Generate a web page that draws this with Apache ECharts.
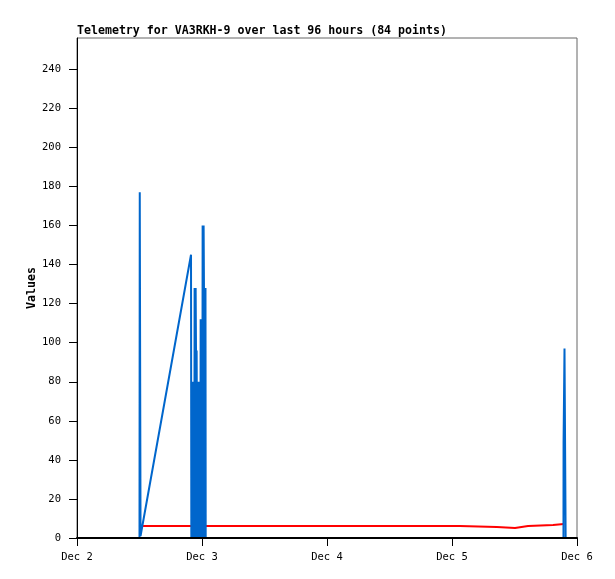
<!DOCTYPE html>
<html>
<head>
<meta charset="utf-8">
<script src="https://cdn.jsdelivr.net/npm/echarts@6/dist/echarts.min.js"></script>
<style>
html, body { margin: 0; padding: 0; background: #fff; }
#chart { width: 615px; height: 579px; }
</style>
</head>
<body>
<div id="chart"></div>
<script>
// hours since Dec 2 00:00
const blueHours = [12.0, 12.05, 12.2, 21.89, 21.95, 22.0, 22.08, 22.14, 22.2, 22.27, 22.33, 22.4,
  22.46, 22.52, 22.58, 22.66, 22.72, 22.78, 22.85, 22.91, 22.97, 23.04, 23.1, 23.16,
  23.23, 23.29, 23.35, 23.42, 23.48, 23.54, 23.62, 23.68, 23.74, 23.81, 23.87, 23.93,
  24.0, 24.06, 24.12, 24.19, 24.25, 24.31, 24.38, 24.44, 24.5, 24.56, 24.62, 24.67, 24.71,
  93.4, 93.42, 93.58, 93.6, 93.8, 93.82];
const blueValues = [0, 177, 1, 145, 0, 80, 80, 0, 80, 80, 0, 80,
  80, 0, 128, 128, 0, 128, 96, 0, 96, 96, 0, 69,
  69, 0, 80, 80, 0, 80, 80, 0, 112, 112, 0, 112,
  112, 0, 160, 160, 0, 160, 128, 0, 128, 128, 0, 128, 0,
  0, 49, 49, 97, 97, 0];

const redHours = [12.38, 73.5, 80.6, 84.1, 86.6, 91.4, 93.5];
const redValues = [6.14, 5.63, 5.12, 6.14, 6.66, 7.17, 7.17];

const yTicks = [0, 20, 40, 60, 80, 100, 120, 140, 160, 180, 200, 220, 240];
const xTickLabels = ['Dec 2', 'Dec 3', 'Dec 4', 'Dec 5', 'Dec 6'];

const font = 'DejaVu Sans Mono';

const option = {
  animation: false,
  backgroundColor: '#fff',
  title: {
    text: 'Telemetry for VA3RKH-9 over last 96 hours (84 points)',
    left: 77,
    top: 25,
    padding: 0,
    textStyle: { fontFamily: font, fontSize: 11.6, fontWeight: 'bold', color: '#000' }
  },
  grid: {
    show: true,
    left: 77,
    right: 38,
    top: 38,
    bottom: 41,
    borderColor: '#666',
    borderWidth: 1,
    backgroundColor: '#fff'
  },
  xAxis: {
    type: 'value',
    min: 0,
    max: 96,
    interval: 24,
    z: 5,
    splitLine: { show: false },
    axisLine: { lineStyle: { color: '#000', width: 2 } },
    axisTick: { show: true, length: 8, lineStyle: { color: '#000', width: 1 } },
    axisLabel: {
      margin: 14,
      color: '#000',
      fontFamily: font,
      fontSize: 10.5,
      formatter: (v) => xTickLabels[Math.round(v / 24)]
    }
  },
  yAxis: {
    type: 'value',
    min: 0,
    max: 256,
    name: 'Values',
    nameLocation: 'middle',
    nameGap: 39,
    nameMoveOverlap: false,
    nameTextStyle: { fontFamily: font, fontSize: 11.6, fontWeight: 'bold', color: '#000' },
    splitLine: { show: false },
    axisLine: { show: true, lineStyle: { color: '#000', width: 1 } },
    axisTick: { show: true, length: 8, customValues: yTicks, lineStyle: { color: '#000' } },
    axisLabel: {
      margin: 16,
      customValues: yTicks,
      color: '#000',
      fontFamily: font,
      fontSize: 10.5
    }
  },
  series: [
    {
      type: 'line',
      step: 'end',
      showSymbol: false,
      z: 2,
      lineStyle: { color: '#ff0000', width: 2 },
      data: redHours.map((h, i) => [h, redValues[i]])
    },
    {
      type: 'line',
      showSymbol: false,
      z: 3,
      lineStyle: { color: '#0066cc', width: 2 },
      data: blueHours.map((h, i) => [h, blueValues[i]])
    }
  ]
};

const myChart = echarts.init(document.getElementById('chart'));
myChart.setOption(option);
</script>
</body>
</html>
